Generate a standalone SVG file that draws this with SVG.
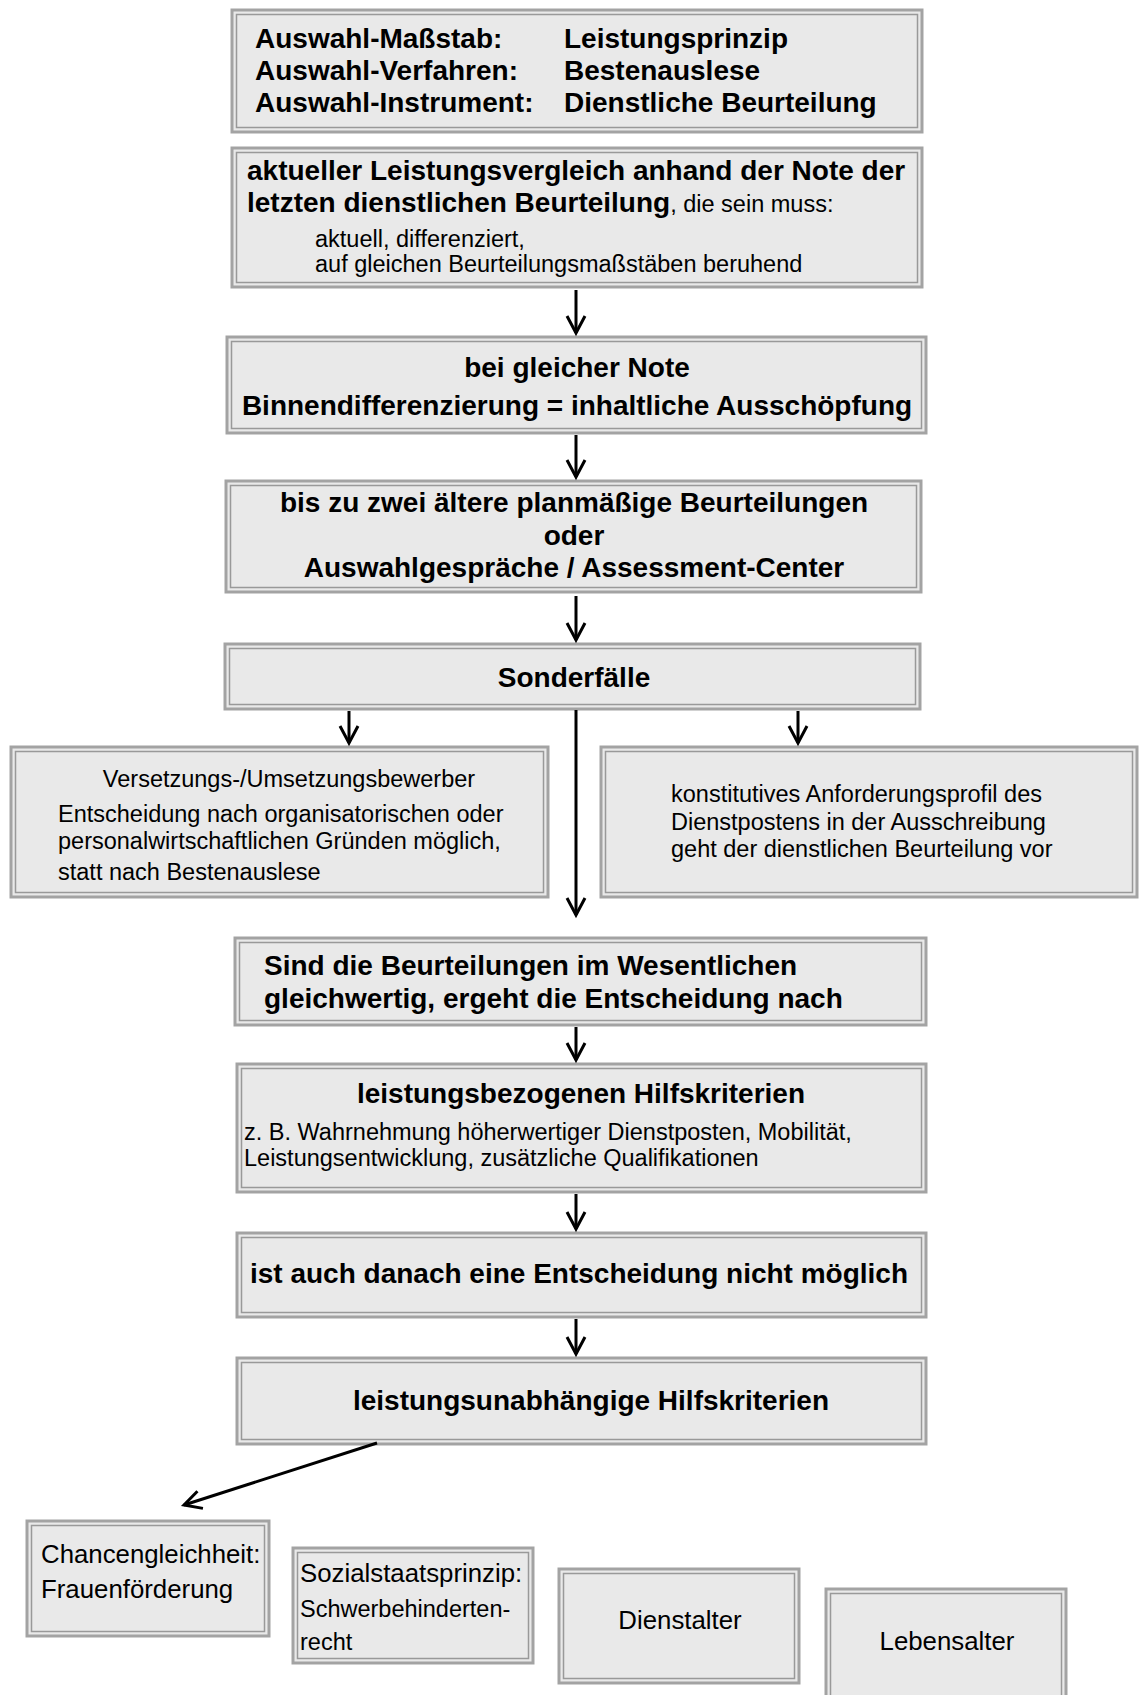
<svg xmlns="http://www.w3.org/2000/svg" width="1142" height="1695" viewBox="0 0 1142 1695">
<style>
.o{fill:#e9e9e9;stroke:#a3a3a3;stroke-width:3}
.i{fill:none;stroke:#999;stroke-width:1.5}
.b{font-family:"Liberation Sans",Arial,sans-serif;font-weight:bold;font-size:28px;fill:#000}
.r{font-family:"Liberation Sans",Arial,sans-serif;font-size:23.5px;fill:#000}
.s{font-family:"Liberation Sans",Arial,sans-serif;font-size:25.8px;fill:#000}
.c{text-anchor:middle}
.a{stroke:#000;stroke-width:3;fill:none}
</style>
<defs>
<marker id="ah" viewBox="-22 -12 26 24" markerWidth="26" markerHeight="24" refX="0" refY="0" orient="auto" markerUnits="userSpaceOnUse">
<path d="M-17,-9 L0,0 L-17,9" fill="none" stroke="#000" stroke-width="3"/>
</marker>
</defs>
<rect width="1142" height="1695" fill="#fff"/>

<g id="n1">
<rect class="o" x="232" y="10" width="690" height="122"/><rect class="i" x="236.5" y="14.5" width="681" height="113"/>
<text class="b" x="255" y="48">Auswahl-Maßstab:</text>
<text class="b" x="255" y="80">Auswahl-Verfahren:</text>
<text class="b" x="255" y="112">Auswahl-Instrument:</text>
<text class="b" x="564" y="48">Leistungsprinzip</text>
<text class="b" x="564" y="80">Bestenauslese</text>
<text class="b" x="564" y="112">Dienstliche Beurteilung</text>
</g>

<g id="n2">
<rect class="o" x="232" y="148" width="690" height="139"/><rect class="i" x="236.5" y="152.5" width="681" height="130"/>
<text class="b" x="247" y="180">aktueller Leistungsvergleich anhand der Note der</text>
<text class="b" x="247" y="212">letzten dienstlichen Beurteilung<tspan class="r" font-weight="normal">, die sein muss:</tspan></text>
<text class="r" x="315" y="247">aktuell, differenziert,</text>
<text class="r" x="315" y="272">auf gleichen Beurteilungsmaßstäben beruhend</text>
</g>

<g id="n3">
<rect class="o" x="227" y="337" width="699" height="96"/><rect class="i" x="231.5" y="341.5" width="690" height="87"/>
<text class="b c" x="577" y="377">bei gleicher Note</text>
<text class="b c" x="577" y="415">Binnendifferenzierung = inhaltliche Ausschöpfung</text>
</g>

<g id="n4">
<rect class="o" x="226" y="481" width="695" height="111"/><rect class="i" x="230.5" y="485.5" width="686" height="102"/>
<text class="b c" x="574" y="512">bis zu zwei ältere planmäßige Beurteilungen</text>
<text class="b c" x="574" y="545">oder</text>
<text class="b c" x="574" y="577">Auswahlgespräche / Assessment-Center</text>
</g>

<g id="n5">
<rect class="o" x="225" y="644" width="695" height="65"/><rect class="i" x="229.5" y="648.5" width="686" height="56"/>
<text class="b c" x="574" y="687">Sonderfälle</text>
</g>

<g id="n6">
<rect class="o" x="11" y="747" width="537" height="150"/><rect class="i" x="15.5" y="751.5" width="528" height="141"/>
<text class="r c" x="289" y="787">Versetzungs-/Umsetzungsbewerber</text>
<text class="r" x="58" y="822">Entscheidung nach organisatorischen oder</text>
<text class="r" x="58" y="849">personalwirtschaftlichen Gründen möglich,</text>
<text class="r" x="58" y="880">statt nach Bestenauslese</text>
</g>

<g id="n7">
<rect class="o" x="601" y="747" width="536" height="150"/><rect class="i" x="605.5" y="751.5" width="527" height="141"/>
<text class="r" x="671" y="802">konstitutives Anforderungsprofil des</text>
<text class="r" x="671" y="830">Dienstpostens in der Ausschreibung</text>
<text class="r" x="671" y="857">geht der dienstlichen Beurteilung vor</text>
</g>

<g id="n8">
<rect class="o" x="235" y="938" width="691" height="87"/><rect class="i" x="239.5" y="942.5" width="682" height="78"/>
<text class="b" x="264" y="975">Sind die Beurteilungen im Wesentlichen</text>
<text class="b" x="264" y="1008">gleichwertig, ergeht die Entscheidung nach</text>
</g>

<g id="n9">
<rect class="o" x="237" y="1064" width="689" height="128"/><rect class="i" x="241.5" y="1068.5" width="680" height="119"/>
<text class="b c" x="581" y="1103">leistungsbezogenen Hilfskriterien</text>
<text class="r" x="244" y="1140">z. B. Wahrnehmung höherwertiger Dienstposten, Mobilität,</text>
<text class="r" x="244" y="1166">Leistungsentwicklung, zusätzliche Qualifikationen</text>
</g>

<g id="n10">
<rect class="o" x="237" y="1233" width="689" height="84"/><rect class="i" x="241.5" y="1237.5" width="680" height="75"/>
<text class="b c" x="579" y="1283">ist auch danach eine Entscheidung nicht möglich</text>
</g>

<g id="n11">
<rect class="o" x="237" y="1358" width="689" height="86"/><rect class="i" x="241.5" y="1362.5" width="680" height="77"/>
<text class="b c" x="591" y="1410">leistungsunabhängige Hilfskriterien</text>
</g>

<g id="n12">
<rect class="o" x="27" y="1521" width="242" height="115"/><rect class="i" x="31.5" y="1525.5" width="233" height="106"/>
<text class="s" x="41" y="1563">Chancengleichheit:</text>
<text class="s" x="41" y="1598">Frauenförderung</text>
</g>

<g id="n13">
<rect class="o" x="293" y="1548" width="240" height="115"/><rect class="i" x="297.5" y="1552.5" width="231" height="106"/>
<text class="s" x="300" y="1582">Sozialstaatsprinzip:</text>
<text class="r" x="300" y="1617">Schwerbehinderten-</text>
<text class="r" x="300" y="1650">recht</text>
</g>

<g id="n14">
<rect class="o" x="559" y="1569" width="240" height="114"/><rect class="i" x="563.5" y="1573.5" width="231" height="105"/>
<text class="s c" x="680" y="1629">Dienstalter</text>
</g>

<g id="n15">
<rect class="o" x="826" y="1589" width="240" height="120"/><rect class="i" x="830.5" y="1593.5" width="231" height="111"/>
<text class="s c" x="947" y="1650">Lebensalter</text>
</g>

<g id="connectors">
<line class="a" x1="576" y1="290" x2="576" y2="333" marker-end="url(#ah)"/>
<line class="a" x1="576" y1="435" x2="576" y2="477" marker-end="url(#ah)"/>
<line class="a" x1="576" y1="596" x2="576" y2="640" marker-end="url(#ah)"/>
<line class="a" x1="349" y1="711" x2="349" y2="743" marker-end="url(#ah)"/>
<line class="a" x1="798" y1="711" x2="798" y2="743" marker-end="url(#ah)"/>
<line class="a" x1="576" y1="710" x2="576" y2="915" marker-end="url(#ah)"/>
<line class="a" x1="576" y1="1027" x2="576" y2="1060" marker-end="url(#ah)"/>
<line class="a" x1="576" y1="1194" x2="576" y2="1229" marker-end="url(#ah)"/>
<line class="a" x1="576" y1="1319" x2="576" y2="1354" marker-end="url(#ah)"/>
<line class="a" x1="377" y1="1443" x2="184" y2="1505" marker-end="url(#ah)"/>
</g>
</svg>
